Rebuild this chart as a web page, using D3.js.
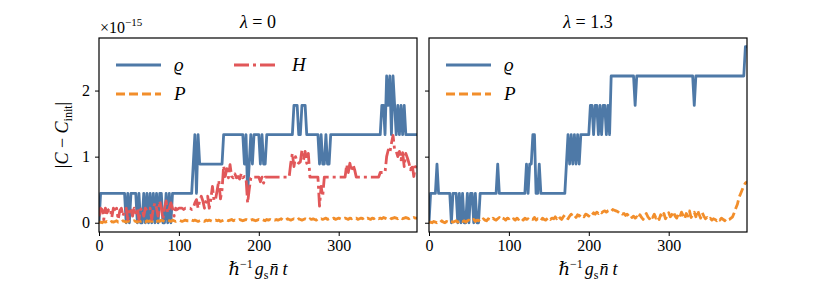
<!DOCTYPE html>
<html>
<head>
<meta charset="utf-8">
<script src="https://cdn.jsdelivr.net/npm/d3@7"></script>
<style>
  body { margin: 0; background: #fff; }
</style>
</head>
<body>
<svg id="fig"></svg>
<script>
const width = 821, height = 296
const SERIF = "'Liberation Serif', 'DejaVu Serif', serif"

// sample grid of the simulation time (hbar^-1 g_s nbar t)
const T_STEP = 2
const N_SAMPLES = 200
const times = d3.range(N_SAMPLES).map(i => i * T_STEP)

// machine epsilon expressed in units of 1e-15
const EPS = 0.2220446

// rho error, counted in machine epsilons (lambda = 0)
const rhoLeft = [
  0, 2,2,2,2,2,2,2,2,2,2,2,2,2,2,2,2,
  0,2,0,2, 2,2,2,
  0,2,0,0,2,0,2,0,2,0, 2,
  0,2,0,2,2,0,0,2,0,2,0,
  2,2,2,2,2,2,2,2,2,2,2,2,2,
  4,6,2,6,4,
  4,4,4,4,4,4,4,4,4,4,4,4,4,4,
  6,6,6,6,6,6,6,6,6,6,6,6,
  6,4,6,2,4,6,4,6,6,6,6,4,6,4,4,6,
  6,6,6,6,6,6,6,6,6,6,6,6,6,6,6,6,
  8,8,8, 6,6, 8,8,8,
  6,6,6,6,6,6,6,6,
  4,6,4,4,6,4,4,6,
  6,6,6,6,6,6,6,6,6,6,6,6,6,6,6,6,6,6,6,6,6,6,6,6,6,6,6,6,6,6,
  6,8,8,6,10,8,10,6,10,8,6,8,6,8,6,8,6,
  6,6,6,6,6,6,6
]

// P error (x1e-15), lambda = 0
const pLeft = [
  0.0,0.01,0.0,0.02,0.01,0.02,0.01,0.0,0.02,0.01,0.02,0.03,0.01,0.02,0.01,0.03,
  0.02,0.01,0.03,0.02,0.01,0.02,0.03,0.02,0.01,0.03,0.02,0.03,0.02,0.01,0.03,0.02,
  0.03,0.02,0.03,0.04,0.02,0.03,0.02,0.04,0.03,0.02,0.03,0.04,0.03,0.02,0.04,0.03,
  0.02,0.03,0.04,0.03,0.02,0.03,0.04,0.03,0.03,0.02,0.04,0.03,0.04,0.03,0.02,0.03,
  0.04,0.03,0.02,0.04,0.03,0.04,0.03,0.02,0.03,0.04,0.03,0.04,0.02,0.03,0.04,0.03,
  0.04,0.03,0.04,0.05,0.03,0.04,0.03,0.04,0.05,0.04,0.03,0.04,0.05,0.04,0.03,0.04,
  0.05,0.04,0.03,0.04,0.05,0.04,0.05,0.04,0.03,0.05,0.04,0.05,0.04,0.05,0.04,0.05,
  0.04,0.05,0.06,0.04,0.05,0.04,0.06,0.05,0.04,0.05,0.06,0.05,0.04,0.06,0.05,0.04,
  0.05,0.06,0.05,0.04,0.06,0.05,0.06,0.05,0.04,0.06,0.05,0.06,0.05,0.06,0.07,0.05,
  0.06,0.05,0.06,0.07,0.05,0.06,0.07,0.06,0.05,0.06,0.07,0.06,0.05,0.07,0.06,0.07,
  0.06,0.07,0.05,0.06,0.07,0.06,0.08,0.06,0.07,0.06,0.05,0.07,0.06,0.08,0.07,0.06,
  0.07,0.06,0.08,0.07,0.06,0.07,0.08,0.06,0.07,0.08,0.07,0.06,0.08,0.07,0.06,0.07,
  0.08,0.07,0.06,0.08,0.07,0.08,0.07,0.07
]

// H error (x1e-15), lambda = 0
const hLeft = [
  0.1,0.22,0.2,0.05,0.22,0.15,0.2,0.22,0.08,0.22,0.2,0.22,0.05,0.18,0.22,0.1,
  0.2,0.22,0.05,0.22,0.2,0.1,0.22,0.15,0.22,0.05,0.2,0.22,0.1,0.22,0.18,0.22,
  0.22,0.05,0.22,0.3,0.22,0.1,0.33,0.22,0.05,0.22,0.33,0.15,0.22,0.3,0.22,0.1,
  0.22,0.2,0.22,0.22,0.22,0.2,0.22,0.22,0.22,0.22,0.2,0.22,0.3,0.35,0.22,0.33,
  0.4,0.33,0.22,0.33,0.4,0.22,0.36,0.55,0.33,0.36,0.5,0.64,0.36,0.5,0.86,0.7,
  0.82,0.68,0.88,0.7,0.68,0.74,0.68,0.7,0.66,0.74,0.68,0.7,0.68,0.3,0.5,0.68,
  0.7,0.69,0.69,0.69,0.69,0.62,0.69,0.6,0.69,0.69,0.69,0.69,0.69,0.69,0.69,0.69,
  0.69,0.69,0.69,0.69,0.69,0.69,0.69,0.69,0.9,1.05,0.85,1.0,0.92,0.9,0.92,1.1,
  0.95,1.08,0.9,1.05,0.69,0.69,0.69,0.69,0.69,0.69,0.25,0.55,0.4,0.69,0.69,0.69,
  0.69,0.69,0.69,0.69,0.69,0.69,0.69,0.69,0.69,0.69,0.69,0.88,0.76,0.9,0.78,0.88,
  0.8,0.69,0.69,0.69,0.69,0.69,0.69,0.69,0.69,0.69,0.69,0.69,0.69,0.69,0.69,0.69,
  0.76,0.76,0.76,0.76,
  1.0,1.1,1.06,1.2,1.32,1.1,1.08,
  1.0,1.08,0.95,1.06,0.85,1.05,0.98,0.9,0.8,0.88,0.7,0.85,0.78
]

// rho error, counted in machine epsilons (lambda = 1.3)
const rhoRight = [
  0, 2,2,2,2, 4, 2,2,2,2,2,2,2,2, 0, 2,2,2,
  0,2,0,2,0,0,2,0, 2,2,
  0,2,0,0,2,
  2,2,2,2,2,2,2,2,2,2, 4,
  2,2,2,2,2,2,2,2,2,2,2,2,2,2,2,2,2,
  4,2,4,4,6,6,2, 2,4,2,
  2,2,2,2,2,2,2,2,2,2,2,2,2,2,2,
  4,6,4,6,4,6,4,6,4,6,
  6,6,6,6,6,
  8,8,6,8,8,6,8,6,8,8,6,8,6,
  10,10,10,10,10,10,10,10,10,10,10,10,10,10,10,
  8,
  10,10,10,10,10,10,10,10,10,10,10,10,10,10,10,10,10,10,
  10,10,10,10,10,10,10,10,10,10,10,10,10,10,10,10,10,10,
  8,
  10,10,10,10,10,10,10,10,10,10,10,10,10,10,10,10,
  10,10,10,10,10,10,10,10,10,10,10,10,10,10,10,
  12,12
]

// P error (x1e-15), lambda = 1.3
const pRight = [
  0.0,0.01,0.0,0.02,0.01,0.0,0.02,0.01,0.03,0.01,0.0,0.02,0.01,0.03,0.02,0.01,
  0.02,0.03,0.01,0.02,0.04,0.02,0.03,0.01,0.03,0.04,0.02,0.03,0.05,0.02,0.04,0.03,
  0.05,0.03,0.06,0.04,0.03,0.06,0.05,0.04,0.07,0.05,0.04,0.06,0.08,0.05,0.07,0.06,
  0.04,0.07,0.06,0.08,0.05,0.06,0.04,0.07,0.05,0.08,0.06,0.04,0.07,0.05,0.06,0.04,
  0.06,0.05,0.08,0.04,0.06,0.05,0.03,0.07,0.05,0.04,0.06,0.08,0.05,0.07,0.06,0.09,
  0.06,0.1,0.07,0.05,0.09,0.12,0.08,0.06,0.1,0.13,0.09,0.11,0.08,0.12,0.1,0.13,
  0.11,0.09,0.13,0.12,0.1,0.14,0.12,0.15,0.13,0.16,0.14,0.17,0.15,0.17,0.18,0.16,
  0.18,0.19,0.17,0.2,0.19,0.18,0.17,0.15,0.16,0.13,0.14,0.11,0.13,0.1,0.12,0.08,
  0.1,0.07,0.09,0.06,0.12,0.08,0.05,0.1,0.14,0.09,0.06,0.11,0.08,0.13,0.07,0.1,
  0.05,0.12,0.08,0.14,0.06,0.1,0.15,0.09,0.12,0.17,0.1,0.07,0.13,0.09,0.16,0.11,
  0.06,0.14,0.1,0.18,0.08,0.12,0.16,0.09,0.19,0.13,0.07,0.15,0.1,0.06,0.08,0.05,
  0.07,0.04,0.06,0.05,0.03,0.06,0.04,0.07,0.05,0.03,0.06,0.04,0.05,0.07,0.09,0.15,
  0.22,0.28,0.38,0.44,0.5,0.56,0.6,0.62
]

const xTicks = [0, 100, 200, 300]
const yTicks = [0, 1, 2]
const titles = ["λ = 0", "λ = 1.3"]

const BLUE = "#4e79a7", ORANGE = "#f28e2b", RED = "#e15759"
const LW = 2.8

const svg = d3.select("#fig").attr("width", width).attr("height", height)
  .style("display", "block").style("font-family", SERIF)
svg.append("rect").attr("width", width).attr("height", height).attr("fill", "#fff")

const axTop = 38, axBottom = 232, axW = 318
const panelLeft = [99, 429]

const y = d3.scaleLinear().domain([-0.14, 2.795]).range([axBottom, axTop])

const panels = [
  { title: titles[0], left: panelLeft[0], series: [
      { key: "rho", values: rhoLeft.map(v => v * EPS), color: BLUE, dash: null },
      { key: "P", values: pLeft, color: ORANGE, dash: "9,4" },
      { key: "H", values: hLeft, color: RED, dash: "15,4,3,4" } ] },
  { title: titles[1], left: panelLeft[1], series: [
      { key: "rho", values: rhoRight.map(v => v * EPS), color: BLUE, dash: null },
      { key: "P", values: pRight, color: ORANGE, dash: "9,4" } ] }
]

panels.forEach((p, pi) => {
  const x = d3.scaleLinear().domain([0, 398]).range([p.left, p.left + axW])
  const g = svg.append("g")

  g.append("clipPath").attr("id", "clip" + pi)
    .append("rect").attr("x", p.left).attr("y", axTop).attr("width", axW).attr("height", axBottom - axTop)

  const line = d3.line().x((d, i) => x(times[i])).y(d => y(d))
  const data_g = g.append("g").attr("clip-path", `url(#clip${pi})`)
  p.series.forEach(s => {
    data_g.append("path")
      .attr("d", line(s.values))
      .attr("fill", "none")
      .attr("stroke", s.color)
      .attr("stroke-width", LW)
      .attr("stroke-linejoin", "round")
      .attr("stroke-dasharray", s.dash)
  })

  // axes
  const xa = g.append("g").attr("transform", `translate(0,${axBottom})`)
    .call(d3.axisBottom(x).tickValues(xTicks).tickFormat(d3.format("d")).tickSize(4).tickPadding(4))
  const ya = g.append("g").attr("transform", `translate(${p.left},0)`)
    .call(d3.axisLeft(y).tickValues(yTicks).tickFormat(d3.format("d")).tickSize(4).tickPadding(5))
  ;[xa, ya].forEach(a => {
    a.attr("font-family", null).attr("font-size", null)
    a.select(".domain").remove()
    a.selectAll(".tick line").attr("stroke", "#000").attr("stroke-width", 1)
    a.selectAll(".tick text").style("font-family", SERIF).style("font-size", "16px").attr("fill", "#000")
  })
  if (pi > 0) ya.selectAll(".tick text").remove()

  g.append("rect").attr("x", p.left).attr("y", axTop).attr("width", axW).attr("height", axBottom - axTop)
    .attr("fill", "none").attr("stroke", "#000").attr("stroke-width", 1.2)

  // title
  const tt = g.append("text").attr("x", p.left + axW / 2).attr("y", 28)
    .attr("text-anchor", "middle").style("font-size", "18px")
  const parts = p.title.split(" = ")
  tt.append("tspan").attr("font-style", "italic").text(parts[0])
  tt.append("tspan").text(" = " + parts[1])

  // x label
  const xl = g.append("text").attr("x", p.left + axW / 2).attr("y", 275)
    .attr("text-anchor", "middle").style("font-size", "18px")
  xl.append("tspan").attr("font-style", "italic").text("ℏ")
  xl.append("tspan").style("font-size", "12px").attr("dy", -7).text("−1")
  xl.append("tspan").attr("font-style", "italic").attr("dy", 7).attr("dx", 2).text("g")
  xl.append("tspan").style("font-size", "12px").attr("dy", 4).text("s")
  xl.append("tspan").attr("font-style", "italic").attr("dy", -4).attr("dx", 1).text("n̄")
  xl.append("tspan").attr("font-style", "italic").attr("dx", 4).text("t")

  // legend
  const legend = [
    { label: "ϱ", color: BLUE, dash: null, col: 0, row: 0 },
    { label: "P", color: ORANGE, dash: "9,4", col: 0, row: 1 },
  ]
  if (p.series.length > 2) legend.push({ label: "H", color: RED, dash: "15,4,3,4", col: 1, row: 0 })
  legend.forEach(l => {
    const lx = p.left + 17 + l.col * 118, ly = 65 + l.row * 29
    g.append("line").attr("x1", lx).attr("x2", lx + 45).attr("y1", ly).attr("y2", ly)
      .attr("stroke", l.color).attr("stroke-width", LW).attr("stroke-dasharray", l.dash)
    g.append("text").attr("x", lx + 58).attr("y", ly + 6).style("font-size", "19px")
      .attr("font-style", "italic").text(l.label)
  })
})

// y label and offset text
const yl = svg.append("text").attr("transform", `translate(68,${(axTop + axBottom) / 2}) rotate(-90)`)
  .attr("text-anchor", "middle").style("font-size", "18px")
yl.append("tspan").text("|")
yl.append("tspan").attr("font-style", "italic").text("C")
yl.append("tspan").text(" − ")
yl.append("tspan").attr("font-style", "italic").text("C")
yl.append("tspan").style("font-size", "12px").attr("dy", 4).text("init")
yl.append("tspan").attr("dy", -4).text("|")

const off = svg.append("text").attr("x", 100).attr("y", 33).style("font-size", "16px")
off.append("tspan").text("×10")
off.append("tspan").style("font-size", "11px").attr("dy", -7).text("−15")
</script>
</body>
</html>
